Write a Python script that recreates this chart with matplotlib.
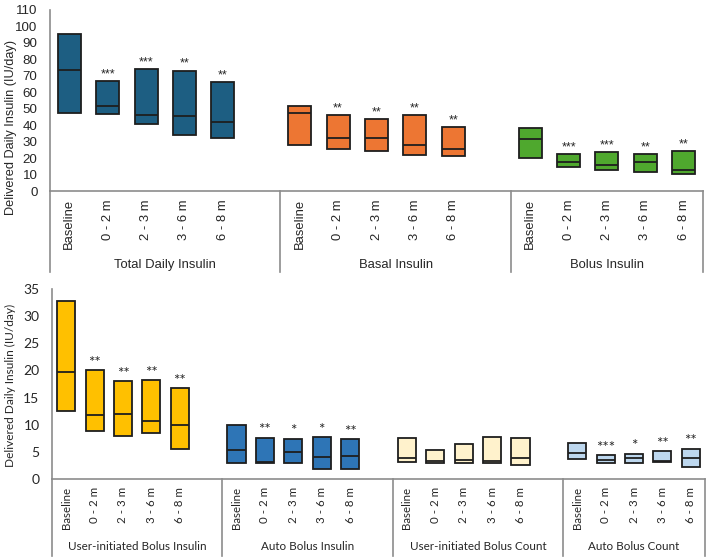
import matplotlib.pyplot as plt
import matplotlib.transforms as mtransforms
import numpy as np

periods = ["Baseline", "0 - 2 m", "2 - 3 m", "3 - 6 m", "6 - 8 m"]

# top panel
top_groups = ["Total Daily Insulin", "Basal Insulin", "Bolus Insulin"]
top_colors = ["#1d5e82", "#ed7633", "#4fa82e"]
top_high = [[95.6, 66.9, 73.9, 73.1, 66.2],
            [51.5, 46.1, 43.6, 46.1, 39.0],
            [38.4, 22.2, 23.8, 22.6, 24.2]]
top_med = [[73.7, 51.9, 46.3, 45.3, 41.8],
           [47.1, 32.5, 32.1, 27.9, 25.6],
           [31.3, 17.8, 15.6, 17.8, 12.9]]
top_low = [[47.5, 46.7, 40.8, 34.1, 32.1],
           [28.1, 25.5, 24.4, 21.8, 21.0],
           [19.8, 14.7, 12.9, 11.5, 10.5]]
top_stars = [["", "***", "***", "**", "**"],
             ["", "**", "**", "**", "**"],
             ["", "***", "***", "**", "**"]]

# bottom panel
bot_groups = ["User-initiated Bolus Insulin", "Auto Bolus Insulin",
              "User-initiated Bolus Count", "Auto Bolus Count"]
bot_colors = ["#ffc000", "#2e75b6", "#fff2cc", "#bdd7ee"]
bot_high = [[32.8, 20.0, 18.0, 18.2, 16.7],
            [10.0, 7.6, 7.4, 7.7, 7.3],
            [7.5, 5.3, 6.5, 7.7, 7.5],
            [6.6, 4.4, 4.6, 5.1, 5.6]]
bot_med = [[19.8, 11.7, 12.0, 10.6, 10.0],
           [5.4, 3.2, 4.9, 4.0, 4.2],
           [3.8, 3.4, 3.5, 3.4, 3.9],
           [4.7, 3.5, 3.8, 3.3, 3.9]]
bot_low = [[12.5, 8.9, 8.0, 8.5, 5.5],
           [3.0, 2.9, 2.9, 1.8, 1.8],
           [3.1, 3.0, 3.0, 3.0, 2.5],
           [3.6, 3.0, 3.0, 3.1, 2.2]]
bot_stars = [["", "**", "**", "**", "**"],
             ["", "**", "*", "*", "**"],
             ["", "", "", "", ""],
             ["", "***", "*", "**", "**"]]

W, H = 709, 560


def draw_panel(ax, groups, colors, high, med, low, stars, ymax, ystep,
               font, tfs, yfs, gfs, lfs, sfs, bw, star_off, sep_y, lab_y):
    n = len(groups)
    nslots = n * 6 - 1
    xs, labels = [], []
    trans = mtransforms.blended_transform_factory(ax.transData, fig.transFigure)
    for g in range(n):
        x = np.arange(5) + g * 6
        lo = np.array(low[g])
        hi = np.array(high[g])
        ax.bar(x, hi - lo, bottom=lo, width=bw, color=colors[g],
               edgecolor="#1e1e1e", linewidth=1.3, align="center", zorder=2)
        ax.hlines(med[g], x - bw / 2, x + bw / 2, color="#1e1e1e",
                  linewidth=1.3, zorder=3)
        for xi, h, s in zip(x, hi, stars[g]):
            if s:
                ax.text(xi, h + star_off, s, ha="center", va="bottom",
                        fontsize=sfs, color="#262626", family=font)
        xs.extend(x)
        labels.extend(periods)
        left = g * 6 - 0.5
        right = min(g * 6 + 5.5, nslots - 0.5)
        ax.text((left + right) / 2, 1 - lab_y / H, groups[g], transform=trans,
                ha="center", va="center", fontsize=gfs, color="#262626",
                family=font)
        ax.plot([right, right], [1 - sep_y[0] / H, 1 - sep_y[1] / H],
                transform=trans, color="#8c8c8c", linewidth=1.2, clip_on=False)
    ax.plot([-0.5, -0.5], [1 - sep_y[0] / H, 1 - sep_y[1] / H],
            transform=trans, color="#8c8c8c", linewidth=1.2, clip_on=False)
    ax.set_xlim(-0.5, nslots - 0.5)
    ax.set_ylim(0, ymax)
    ax.set_yticks(np.arange(0, ymax + 0.1, ystep))
    ax.set_xticks(xs)
    ax.set_xticklabels(labels, rotation=90, family=font, fontsize=tfs,
                       color="#262626")
    for t in ax.get_yticklabels():
        t.set_family(font)
        t.set_fontsize(yfs)
        t.set_color("#262626")
    ax.tick_params(length=0)
    ax.tick_params(axis="y", pad=9)
    ax.tick_params(axis="x", pad=6)
    for s in ["top", "right"]:
        ax.spines[s].set_visible(False)
    ax.spines["left"].set_color("#8c8c8c")
    ax.spines["bottom"].set_color("#8c8c8c")
    ax.spines["left"].set_linewidth(1.2)
    ax.spines["bottom"].set_linewidth(1.2)
    ax.set_ylabel("Delivered Daily Insulin (IU/day)", family=font,
                  fontsize=lfs, color="#262626")


fig = plt.figure(figsize=(W / 100, H / 100), dpi=100)

ax1 = fig.add_axes([50 / W, (H - 191) / H, 653 / W, 181 / H])
draw_panel(ax1, top_groups, top_colors, top_high, top_med, top_low,
           top_stars, 110, 10, "Liberation Sans", 9.4, 9.6, 9.4, 9.2, 9,
           0.6, 0.5, (191, 272), 265)
ax1.yaxis.set_label_coords(-0.05, 0.35)

ax2 = fig.add_axes([52 / W, (H - 479) / H, 653 / W, 190 / H])
draw_panel(ax2, bot_groups, bot_colors, bot_high, bot_med, bot_low,
           bot_stars, 35, 5, "Lato", 8.3, 10, 8.4, 8.6, 11,
           0.64, 0.1, (479, 556), 547)
ax2.yaxis.set_label_coords(-0.055, 0.49)

fig.savefig("out.png", dpi=100)
